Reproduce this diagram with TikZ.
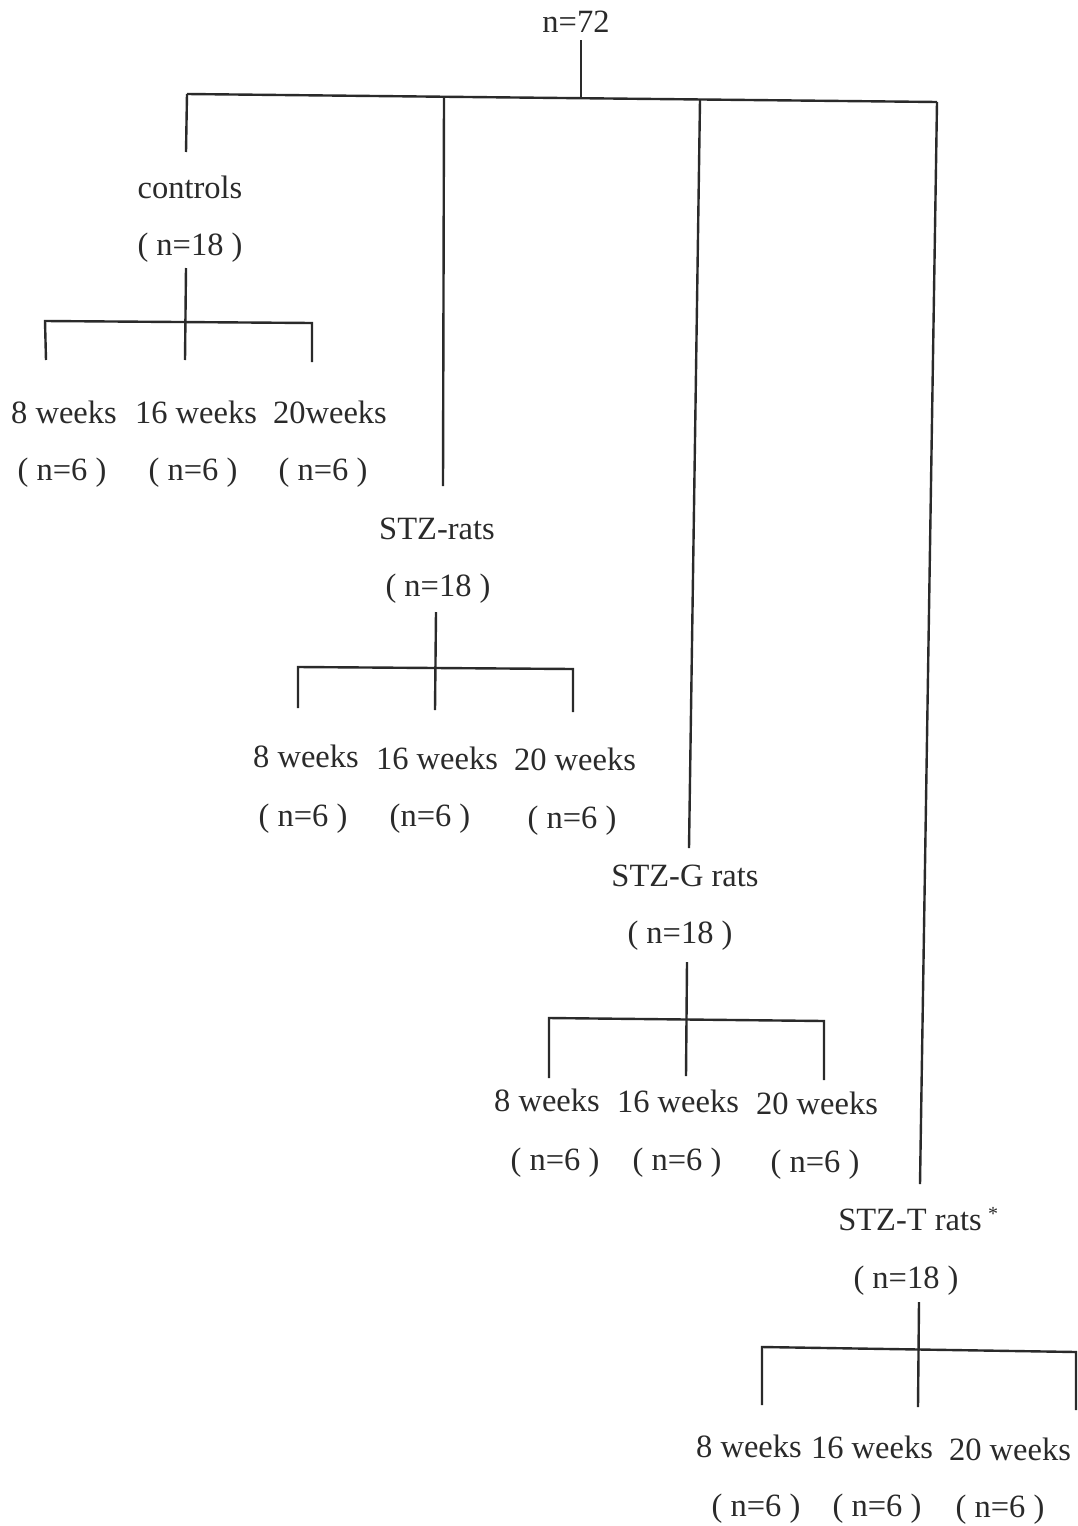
\documentclass[tikz,border=0pt]{standalone}
\usepackage{fontspec}
\setmainfont{Liberation Serif}
\definecolor{ink}{HTML}{2A2A2A}
\begin{document}
\begin{tikzpicture}[x=1pt,y=-1pt,
  lbl/.style={inner sep=0pt,text=ink,font=\fontsize{32.5}{32.5}\selectfont,anchor=base},
  wire/.style={draw=ink,line width=2.4pt}]
\useasboundingbox (0,0) rectangle (1078,1526);
% root
\node[lbl] (root) at (576,32) {n=72};
\coordinate (r0) at (581,40);
\coordinate (r1) at (581,97);
\coordinate (tl) at (187,94);
\coordinate (tr) at (937,102);
\coordinate (a0) at (187,94);  \coordinate (a1) at (186,152);
\coordinate (b0) at (444,97);  \coordinate (b1) at (443,486);
\coordinate (c0) at (700,100); \coordinate (c1) at (689,848);
\coordinate (d0) at (937,102); \coordinate (d1) at (920,1184);
\draw[wire] (r0) -- (r1);
\draw[wire] (tl) -- (tr);
\draw[wire] (a0) -- (a1);
\draw[wire] (b0) -- (b1);
\draw[wire] (c0) -- (c1);
\draw[wire] (d0) -- (d1);

% ---------- controls ----------
\node[lbl] (g1) at (190,198) {controls};
\node[lbl] (g1n) at (190,255) {( n=18 )};
\coordinate (g1v0) at (186,268); \coordinate (g1v1) at (185,360);
\coordinate (g1l) at (45,321); \coordinate (g1r) at (312,323);
\coordinate (g1a) at (46,360); \coordinate (g1c) at (312,362);
\draw[wire] (g1v0) -- (g1v1);
\draw[wire] (g1a) -- (g1l) -- (g1r) -- (g1c);
\node[lbl] (g1w1) at (64,423) {8 weeks};
\node[lbl] (g1w2) at (196,423) {16 weeks};
\node[lbl] (g1w3) at (330,423) {20weeks};
\node[lbl] (g1m1) at (62,480) {( n=6 )};
\node[lbl] (g1m2) at (193,480) {( n=6 )};
\node[lbl] (g1m3) at (323,480) {( n=6 )};

% ---------- STZ-rats ----------
\node[lbl] (g2) at (437,539) {STZ-rats};
\node[lbl] (g2n) at (438,596) {( n=18 )};
\coordinate (g2v0) at (436,612); \coordinate (g2v1) at (435,710);
\coordinate (g2l) at (298,667); \coordinate (g2r) at (573,669);
\coordinate (g2a) at (298,708); \coordinate (g2c) at (573,712);
\draw[wire] (g2v0) -- (g2v1);
\draw[wire] (g2a) -- (g2l) -- (g2r) -- (g2c);
\node[lbl] (g2w1) at (306,767) {8 weeks};
\node[lbl] (g2w2) at (437,769) {16 weeks};
\node[lbl] (g2w3) at (575,770) {20 weeks};
\node[lbl] (g2m1) at (303,826) {( n=6 )};
\node[lbl] (g2m2) at (430,826) {(n=6 )};
\node[lbl] (g2m3) at (572,828) {( n=6 )};

% ---------- STZ-G rats ----------
\node[lbl] (g3) at (685,886) {STZ-G rats};
\node[lbl] (g3n) at (680,943) {( n=18 )};
\coordinate (g3v0) at (687,962); \coordinate (g3v1) at (686,1076);
\coordinate (g3l) at (549,1018); \coordinate (g3r) at (824,1021);
\coordinate (g3a) at (549,1078); \coordinate (g3c) at (824,1080);
\draw[wire] (g3v0) -- (g3v1);
\draw[wire] (g3a) -- (g3l) -- (g3r) -- (g3c);
\node[lbl] (g3w1) at (547,1111) {8 weeks};
\node[lbl] (g3w2) at (678,1112) {16 weeks};
\node[lbl] (g3w3) at (817,1114) {20 weeks};
\node[lbl] (g3m1) at (555,1170) {( n=6 )};
\node[lbl] (g3m2) at (677,1170) {( n=6 )};
\node[lbl] (g3m3) at (815,1172) {( n=6 )};

% ---------- STZ-T rats ----------
\node[lbl] (g4) at (910,1230) {STZ-T rats};
\node[inner sep=0pt,text=ink,font=\fontsize{20}{20}\selectfont,anchor=base] (g4s) at (993,1220) {*};
\node[lbl] (g4n) at (906,1288) {( n=18 )};
\coordinate (g4v0) at (919,1302); \coordinate (g4v1) at (918,1407);
\coordinate (g4l) at (762,1347); \coordinate (g4r) at (1076,1352);
\coordinate (g4a) at (762,1405); \coordinate (g4c) at (1076,1410);
\draw[wire] (g4v0) -- (g4v1);
\draw[wire] (g4a) -- (g4l) -- (g4r) -- (g4c);
\node[lbl] (g4w1) at (749,1457) {8 weeks};
\node[lbl] (g4w2) at (872,1458) {16 weeks};
\node[lbl] (g4w3) at (1010,1460) {20 weeks};
\node[lbl] (g4m1) at (756,1516) {( n=6 )};
\node[lbl] (g4m2) at (877,1516) {( n=6 )};
\node[lbl] (g4m3) at (1000,1517) {( n=6 )};
\end{tikzpicture}
\end{document}
